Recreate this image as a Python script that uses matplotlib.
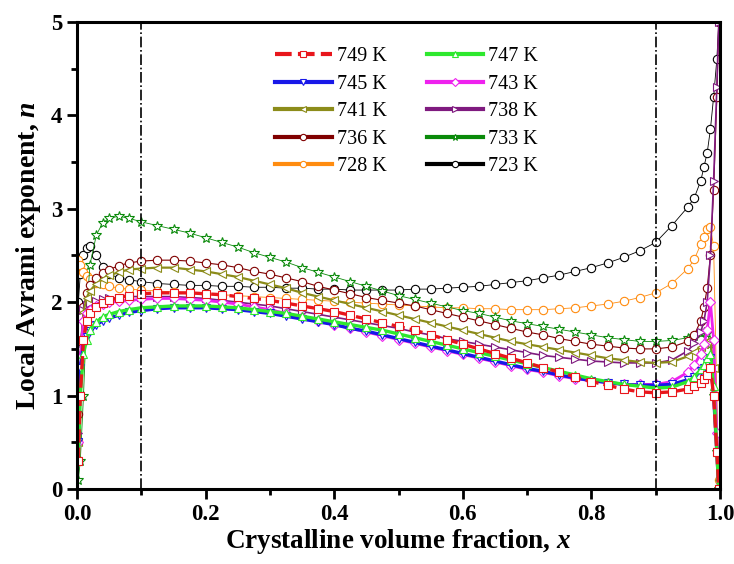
import numpy as np
from matplotlib import pyplot as plt
from matplotlib.lines import Line2D
from matplotlib.ticker import MultipleLocator

plt.rcParams['font.family'] = ['Liberation Serif', 'DejaVu Serif']
plt.rcParams['mathtext.fontset'] = 'custom'
plt.rcParams['mathtext.it'] = 'Liberation Serif:bold:italic'
plt.rcParams['mathtext.rm'] = 'Liberation Serif:bold'

# crystalline volume fraction grid
x = [0.002, 0.005, 0.01, 0.015, 0.02, 0.03, 0.04, 0.05, 0.065, 0.08,
     0.1, 0.125, 0.15, 0.175, 0.2, 0.225, 0.25, 0.275, 0.3, 0.325, 0.35,
     0.375, 0.4, 0.425, 0.45, 0.475, 0.5, 0.525, 0.55, 0.575, 0.6, 0.625,
     0.65, 0.675, 0.7, 0.725, 0.75, 0.775, 0.8, 0.825, 0.85, 0.875, 0.9,
     0.925, 0.95, 0.96, 0.97, 0.975, 0.98, 0.985, 0.99, 0.995, 0.998]

labels = ['749 K', '747 K', '745 K', '743 K', '741 K',
          '738 K', '736 K', '733 K', '728 K', '723 K']

n_749 = [0.3, 1.0, 1.6, 1.8, 1.88, 1.95, 1.99, 2.02, 2.05, 2.07,
         2.09, 2.10, 2.10, 2.10, 2.09, 2.08, 2.06, 2.04, 2.02, 1.99, 1.96,
         1.93, 1.90, 1.86, 1.82, 1.78, 1.74, 1.70, 1.65, 1.60, 1.55, 1.50,
         1.45, 1.40, 1.35, 1.30, 1.25, 1.20, 1.15, 1.11, 1.07, 1.04, 1.03,
         1.04, 1.07, 1.10, 1.14, 1.18, 1.22, 1.30, 1.0, 0.4, 0.0]
n_747 = [0.3, 1.0, 1.45, 1.6, 1.7, 1.79, 1.84, 1.87, 1.90, 1.92,
         1.94, 1.95, 1.96, 1.96, 1.96, 1.95, 1.94, 1.92, 1.90, 1.88, 1.85,
         1.82, 1.79, 1.76, 1.73, 1.70, 1.66, 1.62, 1.58, 1.54, 1.50, 1.46,
         1.42, 1.38, 1.34, 1.30, 1.26, 1.22, 1.18, 1.15, 1.12, 1.10, 1.08,
         1.09, 1.15, 1.20, 1.28, 1.33, 1.40, 1.45, 1.1, 0.4, 0.0]
n_745 = [0.5, 1.3, 1.55, 1.63, 1.69, 1.76, 1.80, 1.83, 1.86, 1.89,
         1.91, 1.93, 1.94, 1.94, 1.94, 1.93, 1.92, 1.90, 1.88, 1.85, 1.82,
         1.79, 1.76, 1.72, 1.69, 1.65, 1.61, 1.57, 1.53, 1.49, 1.45, 1.41,
         1.37, 1.33, 1.29, 1.26, 1.22, 1.19, 1.16, 1.14, 1.12, 1.11, 1.11,
         1.12, 1.17, 1.20, 1.26, 1.30, 1.35, 1.40, 1.0, 0.4, 0.0]
n_743 = [0.5, 1.4, 1.8, 1.88, 1.92, 1.96, 1.98, 2.0, 2.01, 2.02,
         2.03, 2.04, 2.04, 2.03, 2.02, 2.00, 1.98, 1.95, 1.92, 1.88, 1.84,
         1.80, 1.76, 1.72, 1.68, 1.64, 1.60, 1.56, 1.52, 1.48, 1.44, 1.40,
         1.36, 1.32, 1.28, 1.25, 1.21, 1.18, 1.16, 1.14, 1.12, 1.12, 1.12,
         1.15, 1.25, 1.33, 1.45, 1.55, 1.70, 2.0, 1.6, 0.6, 0.0]
n_741 = [0.5, 1.4, 1.9, 2.05, 2.12, 2.2, 2.25, 2.29, 2.32, 2.35,
         2.36, 2.37, 2.37, 2.35, 2.33, 2.30, 2.27, 2.23, 2.19, 2.15, 2.10,
         2.06, 2.02, 1.98, 1.94, 1.90, 1.86, 1.82, 1.78, 1.74, 1.70, 1.66,
         1.62, 1.58, 1.55, 1.52, 1.49, 1.46, 1.43, 1.40, 1.38, 1.36, 1.35,
         1.36, 1.42, 1.47, 1.52, 1.55, 1.58, 1.6, 1.3, 0.6, 0.1]
n_738 = [0.6, 1.5, 1.92, 1.97, 1.99, 2.01, 2.03, 2.04, 2.05, 2.06,
         2.06, 2.06, 2.06, 2.05, 2.04, 2.02, 2.00, 1.98, 1.96, 1.93, 1.90,
         1.87, 1.84, 1.81, 1.78, 1.75, 1.72, 1.68, 1.65, 1.61, 1.58, 1.55,
         1.52, 1.49, 1.46, 1.43, 1.41, 1.39, 1.37, 1.36, 1.35, 1.35, 1.35,
         1.38, 1.48, 1.56, 1.68, 1.8, 2.0, 2.5, 3.3, 4.3, 5.0]
n_736 = [0.8, 1.5, 1.95, 2.1, 2.18, 2.26, 2.31, 2.35, 2.39, 2.42,
         2.44, 2.45, 2.45, 2.44, 2.42, 2.40, 2.37, 2.33, 2.30, 2.26, 2.22,
         2.17, 2.13, 2.09, 2.05, 2.02, 1.99, 1.96, 1.92, 1.88, 1.84, 1.80,
         1.76, 1.72, 1.68, 1.65, 1.61, 1.58, 1.55, 1.53, 1.51, 1.50, 1.50,
         1.52, 1.58, 1.65, 1.8, 1.95, 2.15, 2.5, 3.2, 4.2, 5.0]
n_733 = [0.1, 0.3, 1.0, 1.9, 2.4, 2.72, 2.85, 2.9, 2.92, 2.9,
         2.86, 2.82, 2.78, 2.74, 2.69, 2.64, 2.59, 2.53, 2.48, 2.43, 2.37,
         2.32, 2.27, 2.22, 2.17, 2.12, 2.07, 2.03, 1.99, 1.95, 1.91, 1.88,
         1.84, 1.80, 1.77, 1.74, 1.71, 1.68, 1.65, 1.62, 1.60, 1.58, 1.58,
         1.59, 1.62, 1.64, 1.67, 1.68, 1.67, 1.55, 1.0, 0.4, 0.0]
n_728 = [2.45, 2.4, 2.32, 2.28, 2.25, 2.21, 2.19, 2.17, 2.15, 2.14,
         2.13, 2.12, 2.11, 2.10, 2.09, 2.08, 2.07, 2.06, 2.05, 2.04, 2.03,
         2.02, 2.01, 2.00, 1.99, 1.98, 1.97, 1.96, 1.95, 1.94, 1.94, 1.93,
         1.93, 1.92, 1.92, 1.92, 1.93, 1.94, 1.96, 1.98, 2.01, 2.05, 2.10,
         2.2, 2.36, 2.46, 2.62, 2.7, 2.78, 2.8, 2.6, 1.0, 0.1]
n_723 = [2.0, 2.3, 2.5, 2.58, 2.6, 2.5, 2.38, 2.3, 2.26, 2.24,
         2.22, 2.20, 2.19, 2.18, 2.18, 2.17, 2.17, 2.16, 2.16, 2.15, 2.15,
         2.14, 2.14, 2.13, 2.13, 2.13, 2.13, 2.14, 2.14, 2.15, 2.16, 2.17,
         2.19, 2.21, 2.23, 2.26, 2.29, 2.33, 2.37, 2.42, 2.48, 2.55, 2.64,
         2.82, 3.02, 3.12, 3.3, 3.45, 3.6, 3.85, 4.2, 4.6, 5.0]

series = [n_749, n_747, n_745, n_743, n_741, n_738, n_736, n_733, n_728, n_723]
colors = ['#e8161c', '#2ee82e', '#1818e8', '#ee22ee', '#8c8c1a',
          '#7f1a7f', '#800000', '#0a8a0a', '#ff8c10', '#000000']
markers = ['s', '^', 'v', 'D', '<', '>', 'o', '*', 'o', 'o']
msizes = [6, 6, 6, 5.5, 6, 6, 6, 7, 6, 6]
lwidths = [2.4, 2.4, 2.4, 2.0, 1.6, 1.2, 0.8, 0.6, 0.6, 0.6]
lstyles = [(0, (4, 1.5)), '-', '-', '-', '-', '-', '-', '-', '-', '-']

fig = plt.figure(figsize=(7.34, 5.64), dpi=100)
ax = fig.add_axes([0.105, 0.133, 0.876, 0.828])

# draw back to front so the hot runs sit on top like the original
for i in reversed(range(len(series))):
    ax.plot(x, series[i], color=colors[i], ls=lstyles[i], lw=lwidths[i],
            marker=markers[i], ms=msizes[i], mfc='white', mec=colors[i],
            mew=0.8, clip_on=True)

ax.axvline(0.1, color='k', ls='-.', lw=1.2)
ax.axvline(0.9, color='k', ls='-.', lw=1.2)

ax.set_xlim(0, 1)
ax.set_ylim(0, 5)
ax.xaxis.set_major_locator(MultipleLocator(0.2))
ax.xaxis.set_minor_locator(MultipleLocator(0.1))
ax.yaxis.set_major_locator(MultipleLocator(1))
ax.yaxis.set_minor_locator(MultipleLocator(0.5))
ax.tick_params(which='both', direction='out', width=2, top=False, right=False)
ax.tick_params(which='major', length=7, labelsize=16.5)
ax.tick_params(which='minor', length=4)
for sp in ax.spines.values():
    sp.set_linewidth(2.2)
ax.xaxis.set_major_formatter(plt.FuncFormatter(lambda v, p: f'{v:.1f}'))
for lab in ax.get_xticklabels() + ax.get_yticklabels():
    lab.set_fontweight('bold')

ax.set_xlabel(r'Crystalline volume fraction, $\mathit{x}$', fontsize=19.5,
              fontweight='bold', labelpad=2)
ax.set_ylabel(r'Local Avrami exponent, $\mathit{n}$', fontsize=20,
              fontweight='bold', labelpad=6)

handles = []
for i in range(len(series)):
    handles.append(Line2D([], [], color=colors[i], ls=lstyles[i], lw=3,
                          marker=markers[i], ms=4.5, mfc='white',
                          mec=colors[i], mew=0.8))
# ncol=2 fills column-wise: reorder so rows read 749/747, 745/743, ...
order = [0, 2, 4, 6, 8, 1, 3, 5, 7, 9]
ax.legend([handles[k] for k in order], [labels[k] for k in order],
          ncol=2, frameon=False, fontsize=14.5, handlelength=2.8,
          handletextpad=0.25, columnspacing=2.0, labelspacing=0.42,
          loc='upper left', bbox_to_anchor=(0.28, 0.985))

fig.savefig('out.png', dpi=100)
